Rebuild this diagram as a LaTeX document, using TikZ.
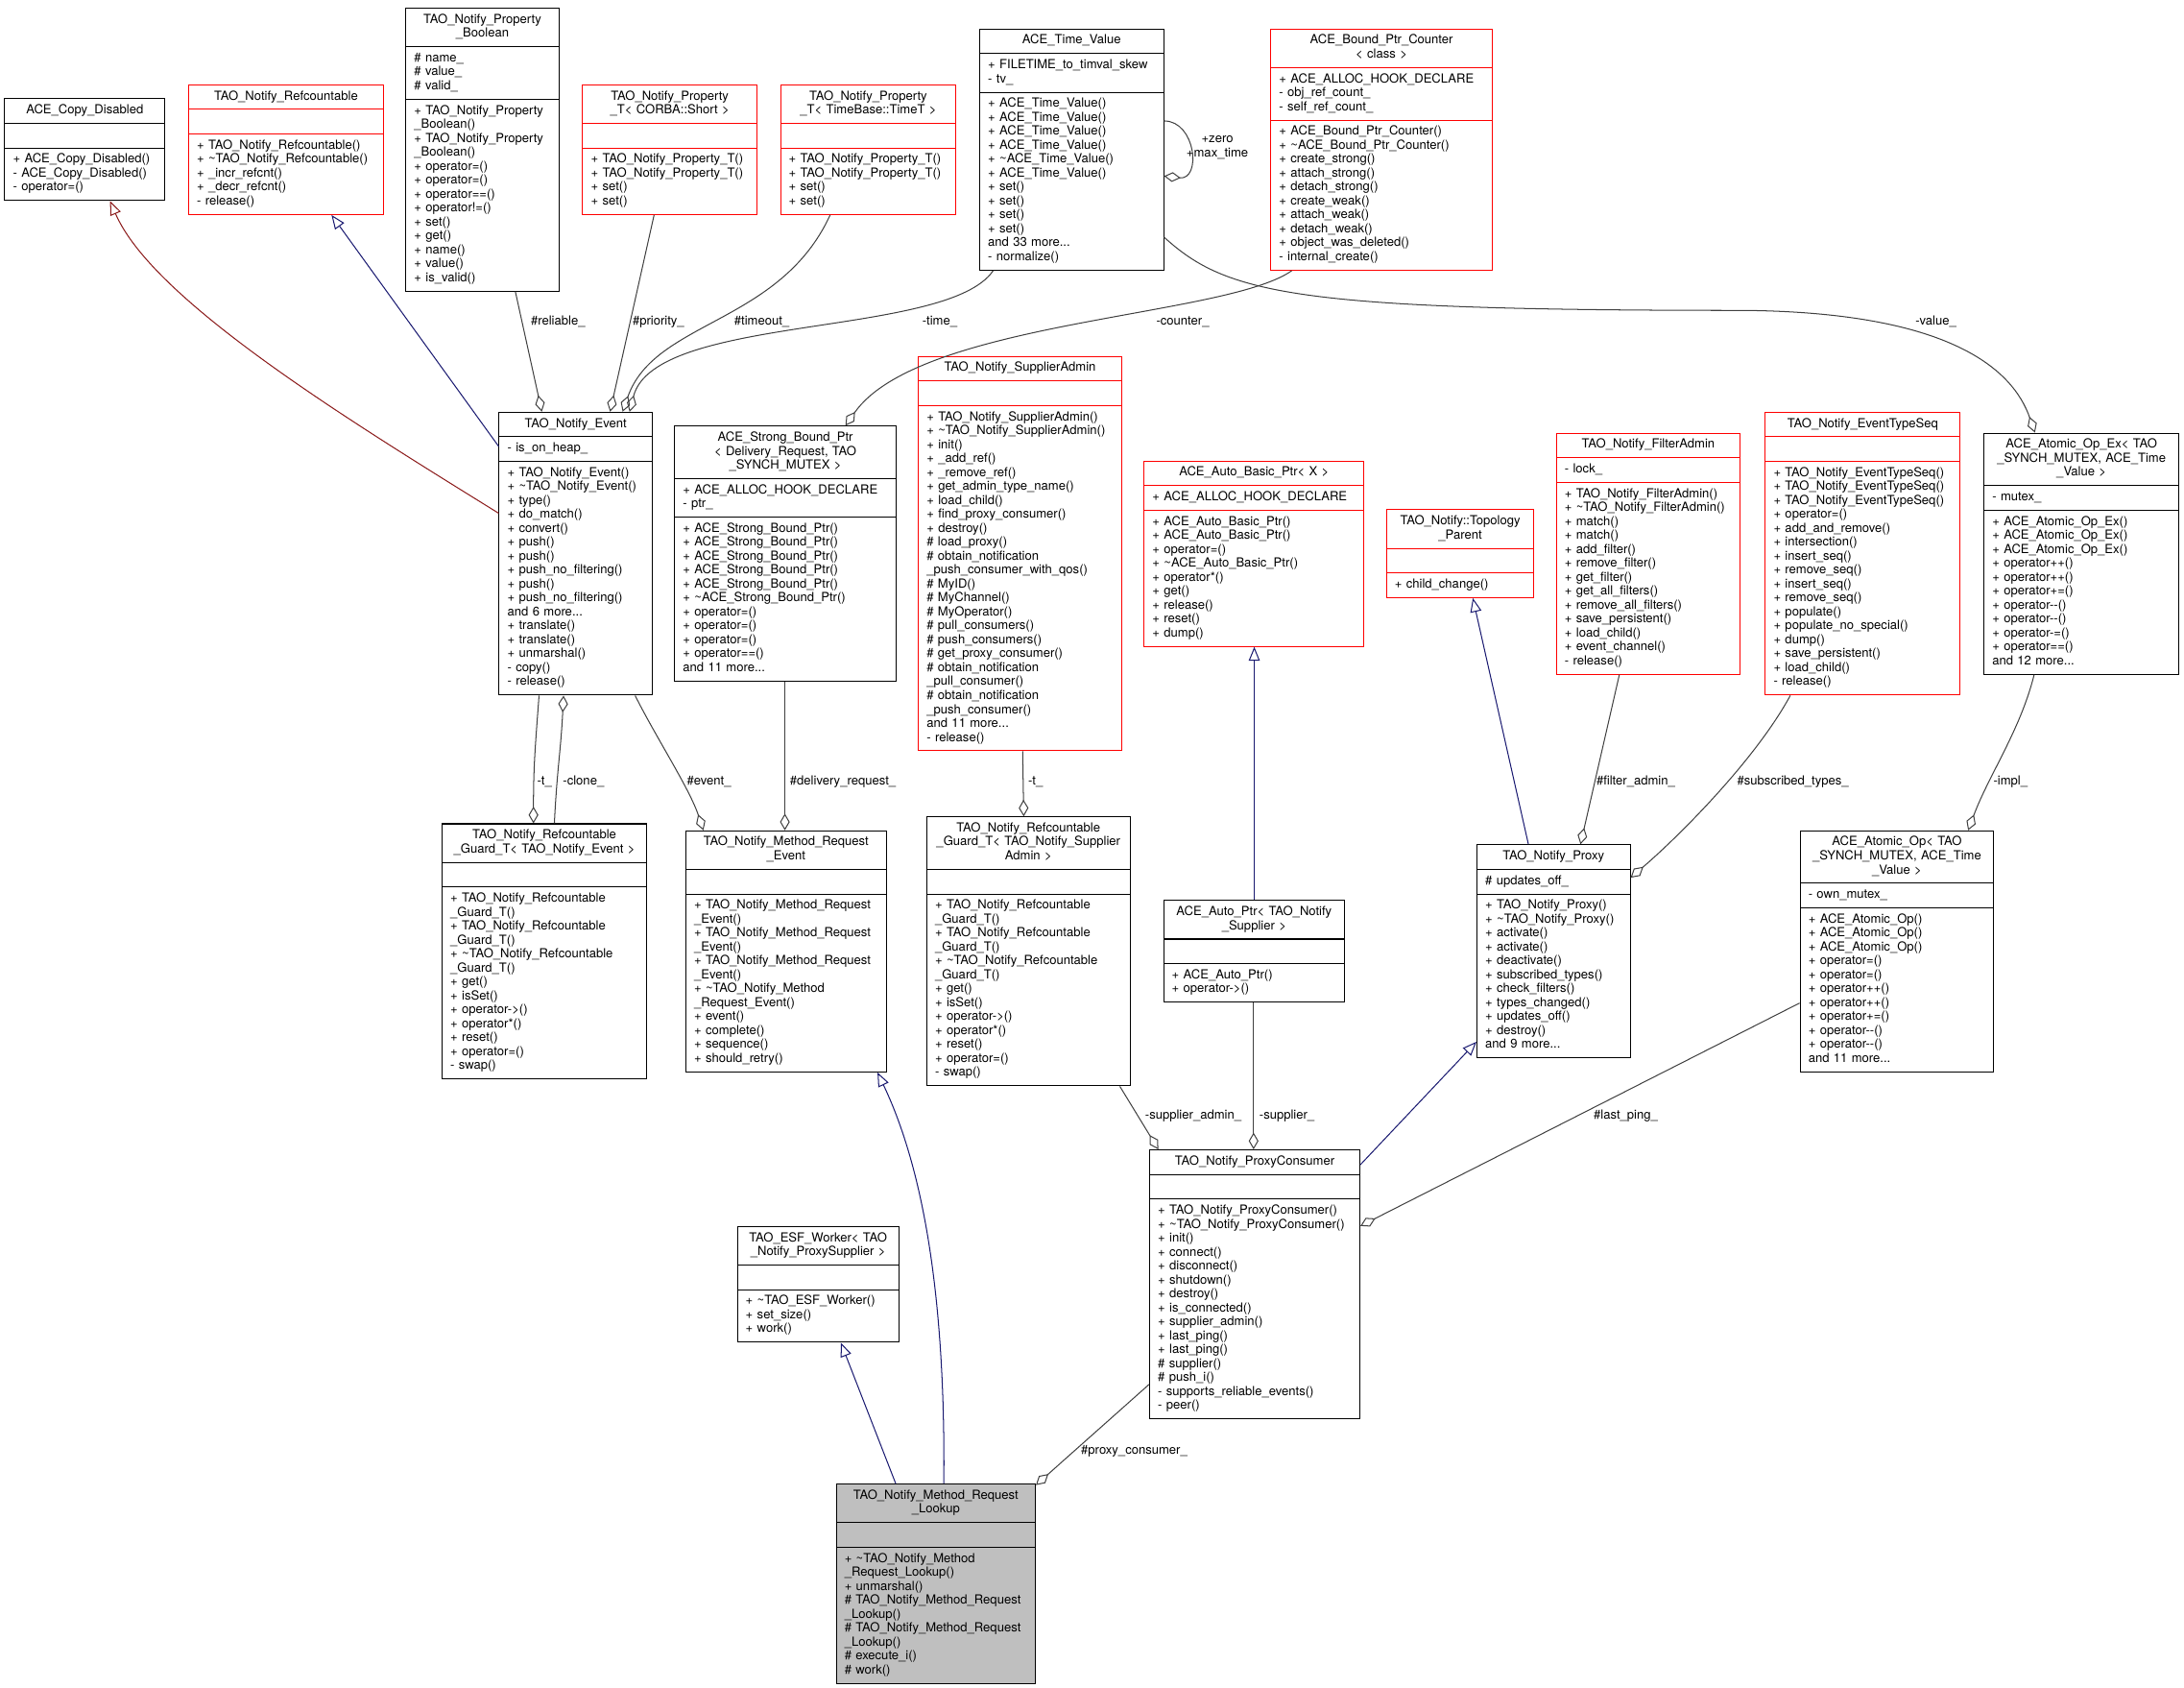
\documentclass[tikz,border=0pt]{standalone}
\usepackage{fontspec}
\setmainfont{TeX Gyre Heros}
\usetikzlibrary{shapes.multipart,arrows.meta,calc}

\definecolor{grey25}{RGB}{64,64,64}
\definecolor{grey75}{RGB}{191,191,191}
\definecolor{midblue}{RGB}{25,25,112}
\definecolor{firebrick}{RGB}{139,26,26}

\newcommand{\tld}{\textasciitilde}
\newcommand{\classparts}[3]{\centering\strut#1\strut\par\nodepart{second}\raggedright\strut#2\strut\par\nodepart{third}\raggedright\strut#3\strut\par}

\tikzset{
  classbox/.style={rectangle split, rectangle split parts=3, draw=black, line width=0.7pt,
    anchor=north west, inner xsep=6pt, inner ysep=3.5pt, font=\fontsize{9}{10}\selectfont},
  redbox/.style={classbox, draw=red},
  agg/.style={draw=grey25, line width=0.7pt, -{Diamond[open, length=12pt, width=7pt]}},
  pubinh/.style={draw=midblue, line width=0.7pt, -{Triangle[open, length=10pt, width=8pt]}},
  privinh/.style={draw=firebrick, line width=0.7pt, -{Triangle[open, length=10pt, width=8pt]}},
  lbl/.style={anchor=west, inner sep=0pt, font=\fontsize{9}{10}\selectfont}
}

\begin{document}
\begin{tikzpicture}[x=1pt, y=-1pt]
  \useasboundingbox (0,0) rectangle (1568,1211);
  % Nodes
  \node (CopyDisabled) [classbox, text width=103pt] at (3,70.5)
    {\classparts{ACE\_Copy\_Disabled}{}{+~ACE\_Copy\_Disabled()\\-~ACE\_Copy\_Disabled()\\-~operator=()}};
  \node (Refcountable) [redbox, text width=128pt] at (135,60.5)
    {\classparts{TAO\_Notify\_Refcountable}{}{+~TAO\_Notify\_Refcountable()\\+~\tld TAO\_Notify\_Refcountable()\\+~\_incr\_refcnt()\\+~\_decr\_refcnt()\\-~release()}};
  \node (PropBoolean) [classbox, text width=98pt] at (291,5.5)
    {\classparts{TAO\_Notify\_Property\\\_Boolean}{\#~name\_\\\#~value\_\\\#~valid\_}{+~TAO\_Notify\_Property\\\_Boolean()\\+~TAO\_Notify\_Property\\\_Boolean()\\+~operator=()\\+~operator=()\\+~operator==()\\+~operator!=()\\+~set()\\+~get()\\+~name()\\+~value()\\+~is\_valid()}};
  \node (PropShort) [redbox, text width=113pt] at (418,60.5)
    {\classparts{TAO\_Notify\_Property\\\_T<~CORBA::Short~>}{}{+~TAO\_Notify\_Property\_T()\\+~TAO\_Notify\_Property\_T()\\+~set()\\+~set()}};
  \node (PropTimeT) [redbox, text width=114pt] at (560,60.5)
    {\classparts{TAO\_Notify\_Property\\\_T<~TimeBase::TimeT~>}{}{+~TAO\_Notify\_Property\_T()\\+~TAO\_Notify\_Property\_T()\\+~set()\\+~set()}};
  \node (TimeValue) [classbox, text width=120pt] at (703,20.5)
    {\classparts{ACE\_Time\_Value}{+~FILETIME\_to\_timval\_skew\\-~tv\_}{+~ACE\_Time\_Value()\\+~ACE\_Time\_Value()\\+~ACE\_Time\_Value()\\+~ACE\_Time\_Value()\\+~\tld ACE\_Time\_Value()\\+~ACE\_Time\_Value()\\+~set()\\+~set()\\+~set()\\+~set()\\and 33 more...\\-~normalize()}};
  \node (BoundCounter) [redbox, text width=147pt] at (912,20.5)
    {\classparts{ACE\_Bound\_Ptr\_Counter\\<~class~>}{+~ACE\_ALLOC\_HOOK\_DECLARE\\-~obj\_ref\_count\_\\-~self\_ref\_count\_}{+~ACE\_Bound\_Ptr\_Counter()\\+~\tld ACE\_Bound\_Ptr\_Counter()\\+~create\_strong()\\+~attach\_strong()\\+~detach\_strong()\\+~create\_weak()\\+~attach\_weak()\\+~detach\_weak()\\+~object\_was\_deleted()\\-~internal\_create()}};

  \node (Event) [classbox, text width=98pt] at (358,295.5)
    {\classparts{TAO\_Notify\_Event}{-~is\_on\_heap\_}{+~TAO\_Notify\_Event()\\+~\tld TAO\_Notify\_Event()\\+~type()\\+~do\_match()\\+~convert()\\+~push()\\+~push()\\+~push\_no\_filtering()\\+~push()\\+~push\_no\_filtering()\\and 6 more...\\+~translate()\\+~translate()\\+~unmarshal()\\-~copy()\\-~release()}};
  \node (StrongPtr) [classbox, text width=147pt] at (484,305.5)
    {\classparts{ACE\_Strong\_Bound\_Ptr\\<~Delivery\_Request,~TAO\\\_SYNCH\_MUTEX~>}{+~ACE\_ALLOC\_HOOK\_DECLARE\\-~ptr\_}{+~ACE\_Strong\_Bound\_Ptr()\\+~ACE\_Strong\_Bound\_Ptr()\\+~ACE\_Strong\_Bound\_Ptr()\\+~ACE\_Strong\_Bound\_Ptr()\\+~ACE\_Strong\_Bound\_Ptr()\\+~\tld ACE\_Strong\_Bound\_Ptr()\\+~operator=()\\+~operator=()\\+~operator=()\\+~operator==()\\and 11 more...}};
  \node (SupplierAdmin) [redbox, text width=134pt] at (659,255.5)
    {\classparts{TAO\_Notify\_SupplierAdmin}{}{+~TAO\_Notify\_SupplierAdmin()\\+~\tld TAO\_Notify\_SupplierAdmin()\\+~init()\\+~\_add\_ref()\\+~\_remove\_ref()\\+~get\_admin\_type\_name()\\+~load\_child()\\+~find\_proxy\_consumer()\\+~destroy()\\\#~load\_proxy()\\\#~obtain\_notification\\\_push\_consumer\_with\_qos()\\\#~MyID()\\\#~MyChannel()\\\#~MyOperator()\\\#~pull\_consumers()\\\#~push\_consumers()\\\#~get\_proxy\_consumer()\\\#~obtain\_notification\\\_pull\_consumer()\\\#~obtain\_notification\\\_push\_consumer()\\and 11 more...\\-~release()}};
  \node (AutoBasicPtr) [redbox, text width=146pt] at (821,330.5)
    {\classparts{ACE\_Auto\_Basic\_Ptr<~X~>}{+~ACE\_ALLOC\_HOOK\_DECLARE}{+~ACE\_Auto\_Basic\_Ptr()\\+~ACE\_Auto\_Basic\_Ptr()\\+~operator=()\\+~\tld ACE\_Auto\_Basic\_Ptr()\\+~operator*()\\+~get()\\+~release()\\+~reset()\\+~dump()}};
  \node (TopologyParent) [redbox, text width=94pt] at (995,365.5)
    {\classparts{TAO\_Notify::Topology\\\_Parent}{}{+~child\_change()}};
  \node (FilterAdmin) [redbox, text width=120pt] at (1117,310.5)
    {\classparts{TAO\_Notify\_FilterAdmin}{-~lock\_}{+~TAO\_Notify\_FilterAdmin()\\+~\tld TAO\_Notify\_FilterAdmin()\\+~match()\\+~match()\\+~add\_filter()\\+~remove\_filter()\\+~get\_filter()\\+~get\_all\_filters()\\+~remove\_all\_filters()\\+~save\_persistent()\\+~load\_child()\\+~event\_channel()\\-~release()}};
  \node (EventTypeSeq) [redbox, text width=128pt] at (1267,295.5)
    {\classparts{TAO\_Notify\_EventTypeSeq}{}{+~TAO\_Notify\_EventTypeSeq()\\+~TAO\_Notify\_EventTypeSeq()\\+~TAO\_Notify\_EventTypeSeq()\\+~operator=()\\+~add\_and\_remove()\\+~intersection()\\+~insert\_seq()\\+~remove\_seq()\\+~insert\_seq()\\+~remove\_seq()\\+~populate()\\+~populate\_no\_special()\\+~dump()\\+~save\_persistent()\\+~load\_child()\\-~release()}};
  \node (AtomicOpEx) [classbox, text width=128pt] at (1424,310.5)
    {\classparts{ACE\_Atomic\_Op\_Ex<~TAO\\\_SYNCH\_MUTEX,~ACE\_Time\\\_Value~>}{-~mutex\_}{+~ACE\_Atomic\_Op\_Ex()\\+~ACE\_Atomic\_Op\_Ex()\\+~ACE\_Atomic\_Op\_Ex()\\+~operator++()\\+~operator++()\\+~operator+=()\\+~operator-{}-()\\+~operator-{}-()\\+~operator-=()\\+~operator==()\\and 12 more...}};

  \node (GuardEvent) [classbox, text width=135pt] at (317,591)
    {\classparts{TAO\_Notify\_Refcountable\\\_Guard\_T<~TAO\_Notify\_Event~>}{}{+~TAO\_Notify\_Refcountable\\\_Guard\_T()\\+~TAO\_Notify\_Refcountable\\\_Guard\_T()\\+~\tld TAO\_Notify\_Refcountable\\\_Guard\_T()\\+~get()\\+~isSet()\\+~operator->()\\+~operator*()\\+~reset()\\+~operator=()\\-~swap()}};
  \node (MethodEvent) [classbox, text width=132pt] at (492,596)
    {\classparts{TAO\_Notify\_Method\_Request\\\_Event}{}{+~TAO\_Notify\_Method\_Request\\\_Event()\\+~TAO\_Notify\_Method\_Request\\\_Event()\\+~TAO\_Notify\_Method\_Request\\\_Event()\\+~\tld TAO\_Notify\_Method\\\_Request\_Event()\\+~event()\\+~complete()\\+~sequence()\\+~should\_retry()}};
  \node (GuardAdmin) [classbox, text width=134pt] at (665,586)
    {\classparts{TAO\_Notify\_Refcountable\\\_Guard\_T<~TAO\_Notify\_Supplier\\Admin~>}{}{+~TAO\_Notify\_Refcountable\\\_Guard\_T()\\+~TAO\_Notify\_Refcountable\\\_Guard\_T()\\+~\tld TAO\_Notify\_Refcountable\\\_Guard\_T()\\+~get()\\+~isSet()\\+~operator->()\\+~operator*()\\+~reset()\\+~operator=()\\-~swap()}};
  \node (AutoPtr) [classbox, text width=118pt] at (835,646)
    {\classparts{ACE\_Auto\_Ptr<~TAO\_Notify\\\_Supplier~>}{}{+~ACE\_Auto\_Ptr()\\+~operator->()}};
  \node (Proxy) [classbox, text width=98pt] at (1060,606)
    {\classparts{TAO\_Notify\_Proxy}{\#~updates\_off\_}{+~TAO\_Notify\_Proxy()\\+~\tld TAO\_Notify\_Proxy()\\+~activate()\\+~activate()\\+~deactivate()\\+~subscribed\_types()\\+~check\_filters()\\+~types\_changed()\\+~updates\_off()\\+~destroy()\\and 9 more...}};
  \node (AtomicOp) [classbox, text width=127pt] at (1292,596)
    {\classparts{ACE\_Atomic\_Op<~TAO\\\_SYNCH\_MUTEX,~ACE\_Time\\\_Value~>}{-~own\_mutex\_}{+~ACE\_Atomic\_Op()\\+~ACE\_Atomic\_Op()\\+~ACE\_Atomic\_Op()\\+~operator=()\\+~operator=()\\+~operator++()\\+~operator++()\\+~operator+=()\\+~operator-{}-()\\+~operator-{}-()\\and 11 more...}};

  \node (EsfWorker) [classbox, text width=104pt] at (529,880)
    {\classparts{TAO\_ESF\_Worker<~TAO\\\_Notify\_ProxySupplier~>}{}{+~\tld TAO\_ESF\_Worker()\\+~set\_size()\\+~work()}};
  \node (ProxyConsumer) [classbox, text width=139pt] at (825,825)
    {\classparts{TAO\_Notify\_ProxyConsumer}{}{+~TAO\_Notify\_ProxyConsumer()\\+~\tld TAO\_Notify\_ProxyConsumer()\\+~init()\\+~connect()\\+~disconnect()\\+~shutdown()\\+~destroy()\\+~is\_connected()\\+~supplier\_admin()\\+~last\_ping()\\+~last\_ping()\\\#~supplier()\\\#~push\_i()\\-~supports\_reliable\_events()\\-~peer()}};
  \node (MethodLookup) [classbox, fill=grey75, text width=131pt] at (600,1065)
    {\classparts{TAO\_Notify\_Method\_Request\\\_Lookup}{}{+~\tld TAO\_Notify\_Method\\\_Request\_Lookup()\\+~unmarshal()\\\#~TAO\_Notify\_Method\_Request\\\_Lookup()\\\#~TAO\_Notify\_Method\_Request\\\_Lookup()\\\#~execute\_i()\\\#~work()}};

  % Arrows
  \draw[privinh] ($(Event.west)+(0,-29)$) .. controls +(-108,-67) and +(31,71.5) .. ($(CopyDisabled.south west)+(76,0)$);
  \draw[pubinh] ($(Event.west)+(0,-77)$) -- ($(Refcountable.south west)+(103,0)$);
  \draw[agg] ($(PropBoolean.south west)+(79,0)$) -- ($(Event.north west)+(31,0)$);
  \draw[agg] ($(PropShort.south west)+(51.6,0)$) -- ($(Event.north west)+(80,0)$);
  \draw[agg] ($(PropTimeT.south west)+(36,0)$) .. controls +(-36,78.5) and +(23,-65.5) .. ($(Event.north west)+(89,0)$);
  \draw[agg] ($(TimeValue.south west)+(10,0)$) .. controls +(-33,48.5) and +(18,-70.5) .. ($(Event.north west)+(94,0)$);
  \draw[agg] ($(BoundCounter.south west)+(15.4,0)$) .. controls +(-47.4,33.5) and +(53,-75.5) .. ($(StrongPtr.north west)+(123,0)$);
  \draw[agg] ($(TimeValue.east)+(0,-20.6)$) .. controls +(23,0) and +(27,3) .. ($(TimeValue.east)+(0,19)$);
  \coordinate (valueBend) at (1250,222.8);
  \draw[agg] ($(TimeValue.east)+(0,62.8)$) .. controls +(45,41) and +(-320,0) .. (valueBend)
    .. controls +(150,1) and +(-16,-45.5) .. ($(AtomicOpEx.north west)+(37,0)$);
  \draw[agg] ($(Event.south west)+(29,0)$) .. controls +(-3,40) and +(0,-40) .. ($(GuardEvent.north west)+(66,0)$);
  \draw[agg] ($(GuardEvent.north west)+(81,0)$) .. controls +(2,-40) and +(-2,40) .. ($(Event.south west)+(46.6,0)$);
  \draw[agg] ($(Event.south west)+(98,0)$) .. controls +(15,30) and +(-10,-30) .. ($(MethodEvent.north west)+(13,0)$);
  \draw[agg] ($(StrongPtr.south west)+(79.5,0)$) -- ($(MethodEvent.north west)+(71.5,0)$);
  \draw[agg] ($(SupplierAdmin.south west)+(75.2,0)$) -- ($(GuardAdmin.north west)+(70,0)$);
  \draw[pubinh] ($(AutoPtr.north west)+(65.5,0)$) -- ($(AutoBasicPtr.south west)+(79.5,0)$);
  \draw[pubinh] ($(Proxy.north west)+(37.3,0)$) -- ($(TopologyParent.south west)+(62.4,0)$);
  \draw[agg] ($(FilterAdmin.south west)+(45.6,0)$) -- ($(Proxy.north west)+(74.7,0)$);
  \draw[agg] ($(EventTypeSeq.south west)+(18.3,0)$) .. controls +(-25,46) and +(35,-30) .. ($(Proxy.north east)+(0,24)$);
  \draw[agg] ($(AtomicOpEx.south west)+(36.4,0)$) .. controls +(-10,40) and +(15,-40) .. ($(AtomicOp.north west)+(121,0)$);
  \draw[agg] ($(GuardAdmin.south west)+(139,0)$) -- ($(ProxyConsumer.north west)+(6.6,0)$);
  \draw[agg] ($(AutoPtr.south west)+(65,0)$) -- ($(ProxyConsumer.north west)+(75,0)$);
  \draw[pubinh] ($(ProxyConsumer.north east)+(0,11)$) -- ($(Proxy.south west)+(0,-12)$);
  \draw[agg] ($(AtomicOp.north west)+(0,124)$) -- ($(ProxyConsumer.north east)+(0,55)$);
  \draw[pubinh] ($(MethodLookup.north west)+(77.6,0)$) .. controls +(1.4,-145) and +(30,63) .. ($(MethodEvent.south west)+(138,0)$);
  \draw[pubinh] ($(MethodLookup.north west)+(43.1,0)$) -- ($(EsfWorker.south west)+(74.7,0)$);
  \draw[agg] ($(ProxyConsumer.north west)+(0,168.7)$) -- ($(MethodLookup.north east)+(0,1)$);

  % Labels
  \node (lReliable) [lbl] at (381,231) {\#reliable\_};
  \node (lPriority) [lbl] at (454,231) {\#priority\_};
  \node (lTimeout) [lbl] at (527,231) {\#timeout\_};
  \node (lTime) [lbl] at (662,231) {-time\_};
  \node (lCounter) [lbl] at (830,231) {-counter\_};
  \node (lZero) [lbl, anchor=center, align=center] at (874,106) {+zero\\+max\_time};
  \node (lValue) [lbl] at (1375,231) {-value\_};
  \node (lEventT) [lbl] at (385.5,561) {-t\_};
  \node (lClone) [lbl] at (404,561) {-clone\_};
  \node (lEvent) [lbl] at (493,561) {\#event\_};
  \node (lDelivery) [lbl] at (567,561) {\#delivery\_request\_};
  \node (lAdminT) [lbl] at (738,561) {-t\_};
  \node (lFilter) [lbl] at (1146,561) {\#filter\_admin\_};
  \node (lSubscribed) [lbl] at (1247,561) {\#subscribed\_types\_};
  \node (lImpl) [lbl] at (1431,561) {-impl\_};
  \node (lSupAdmin) [lbl] at (822,801) {-supplier\_admin\_};
  \node (lSupplier) [lbl] at (904,801) {-supplier\_};
  \node (lLastPing) [lbl] at (1144,801) {\#last\_ping\_};
  \node (lProxyCons) [lbl] at (776,1042) {\#proxy\_consumer\_};
\end{tikzpicture}
\end{document}
